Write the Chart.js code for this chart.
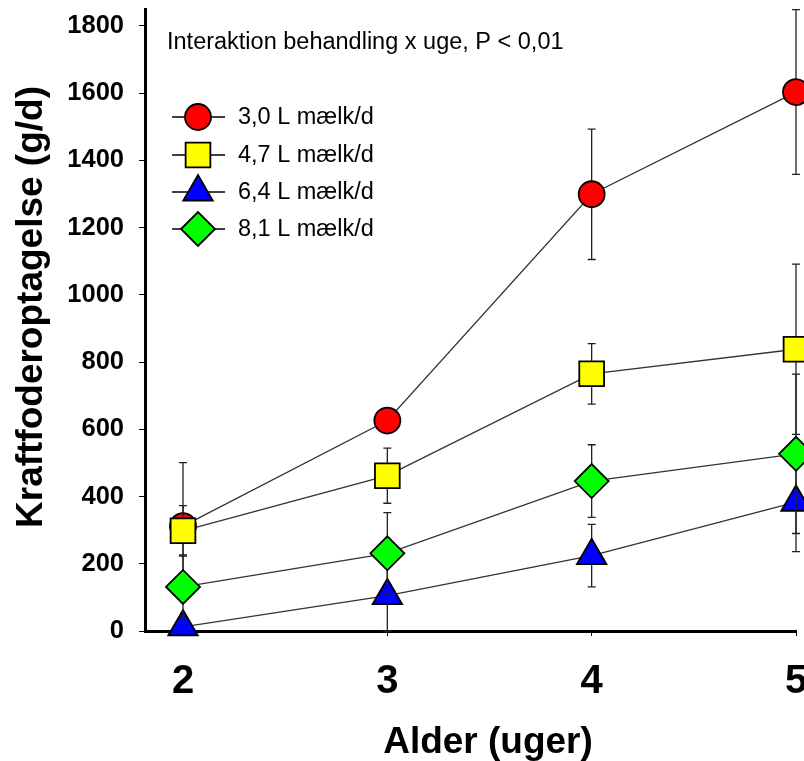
<!DOCTYPE html>
<html>
<head>
<meta charset="utf-8">
<title>Kraftfoderoptagelse</title>
<script src="https://cdn.jsdelivr.net/npm/chart.js@4/dist/chart.umd.min.js"></script>
<style>
  html, body { margin: 0; padding: 0; background: #fff; }
  #wrap { width: 804px; height: 761px; }
</style>
</head>
<body>
<div id="wrap"><canvas id="chart" width="804" height="761"></canvas></div>
<script>
// alder i uger
const weeks = [2, 3, 4, 5];
const yTicks = [0, 200, 400, 600, 800, 1000, 1200, 1400, 1600, 1800];

const labels = ['3,0 L mælk/d', '4,7 L mælk/d', '6,4 L mælk/d', '8,1 L mælk/d'];

// kraftfoderoptagelse (g/d) og fejlgrænser
const milk30 = [312, 626, 1299, 1603];
const milk30Err = [189, 25, 194, 245];
const milk47 = [298, 462, 765, 838];
const milk47Err = [75, 82, 90, 253];
const milk64 = [12, 105, 224, 383];
const milk64Err = [15, 105, 93, 147];
const milk81 = [131, 231, 446, 527];
const milk81Err = [95, 121, 108, 237];

const FONT = '"Liberation Sans", Arial, sans-serif';

const styles = [
  { color: '#ff0000', pointStyle: 'circle', radius: 13 },
  { color: '#ffff00', pointStyle: 'rect', radius: 17.5 },
  { color: '#0000ff', pointStyle: 'triangle', radius: 17 },
  { color: '#00ff00', pointStyle: 'rectRot', radius: 17 },
];

const values = [milk30, milk47, milk64, milk81];
const errors = [milk30Err, milk47Err, milk64Err, milk81Err];

const datasets = values.map((vals, i) => ({
  label: labels[i],
  data: weeks.map((w, j) => ({ x: w, y: vals[j] })),
  err: errors[i],
  borderColor: '#333',
  borderWidth: 1.3,
  pointStyle: styles[i].pointStyle,
  pointRadius: styles[i].radius,
  pointBackgroundColor: styles[i].color,
  pointBorderColor: '#000',
  pointBorderWidth: 1.8,
  order: 4 - i, // rød tegnes først, grøn sidst
  clip: false,
}));

// fejllinjer tegnes lige før hver serie
const errorBars = {
  id: 'errorBars',
  beforeDatasetDraw(chart, args) {
    const ds = chart.data.datasets[args.index];
    const { ctx } = chart;
    const x = chart.scales.x, y = chart.scales.y;
    ctx.save();
    ctx.strokeStyle = '#222';
    ctx.lineWidth = 1.3;
    ds.data.forEach((p, i) => {
      const px = x.getPixelForValue(p.x);
      const top = y.getPixelForValue(p.y + ds.err[i]);
      const bot = y.getPixelForValue(Math.max(0, p.y - ds.err[i]));
      ctx.beginPath();
      ctx.moveTo(px, top); ctx.lineTo(px, bot);
      ctx.moveTo(px - 4, top); ctx.lineTo(px + 4, top);
      ctx.moveTo(px - 4, bot); ctx.lineTo(px + 4, bot);
      ctx.stroke();
    });
    ctx.restore();
  }
};

// titler, note og forklaring
const texts = {
  id: 'texts',
  afterDraw(chart) {
    const { ctx } = chart;
    ctx.save();
    ctx.fillStyle = '#000';

    ctx.font = 'bold 37px ' + FONT;
    ctx.textAlign = 'center';
    ctx.textBaseline = 'alphabetic';
    ctx.fillText('Alder (uger)', 488, 753);

    ctx.save();
    ctx.translate(32, 307);
    ctx.rotate(-Math.PI / 2);
    ctx.textBaseline = 'middle';
    ctx.fillText('Kraftfoderoptagelse (g/d)', 0, 0);
    ctx.restore();

    ctx.font = '23.5px ' + FONT;
    ctx.textAlign = 'left';
    ctx.fillText('Interaktion behandling x uge, P < 0,01', 167, 49);

    const rowsY = [117, 155, 192, 229];
    labels.forEach((lab, i) => {
      const yy = rowsY[i];
      ctx.strokeStyle = '#000';
      ctx.lineWidth = 1.3;
      ctx.beginPath();
      ctx.moveTo(172, yy); ctx.lineTo(225, yy);
      ctx.stroke();
      ctx.fillStyle = styles[i].color;
      ctx.lineWidth = 1.8;
      Chart.helpers.drawPoint(ctx, {
        pointStyle: styles[i].pointStyle,
        radius: styles[i].radius,
        rotation: 0,
        borderWidth: 1.8
      }, 198, yy);
      ctx.fillStyle = '#000';
      ctx.textBaseline = 'middle';
      ctx.fillText(lab, 238, yy + 1);
    });
    ctx.restore();
  }
};

new Chart(document.getElementById('chart'), {
  type: 'line',
  data: { datasets },
  plugins: [errorBars, texts],
  options: {
    responsive: false,
    animation: false,
    layout: { autoPadding: false, padding: { left: 0, right: 8, top: 9, bottom: 0 } },
    plugins: { legend: { display: false }, tooltip: { enabled: false } },
    scales: {
      x: {
        type: 'linear',
        min: 1.814,
        max: 5,
        afterBuildTicks: (s) => { s.ticks = weeks.map(v => ({ value: v })); },
        afterFit: (s) => {
          s.height = 130;
          s.paddingLeft = 0;
          s.paddingRight = 0;
        },
        grid: { drawOnChartArea: false, drawTicks: true, tickLength: 5, color: '#000', lineWidth: 1 },
        border: { display: true, color: '#000', width: 3 },
        ticks: { color: '#000', padding: 22, maxRotation: 0, font: { family: FONT, size: 40, weight: 'bold' } },
      },
      y: {
        min: 0,
        max: 1850,
        afterBuildTicks: (s) => { s.ticks = yTicks.map(v => ({ value: v })); },
        afterFit: (s) => {
          s.width = 145;
          s.paddingTop = 0;
          s.paddingBottom = 0;
        },
        grid: { drawOnChartArea: false, drawTicks: true, tickLength: 6, color: '#000', lineWidth: 1 },
        border: { display: true, color: '#000', width: 3 },
        ticks: {
          color: '#000',
          padding: 15,
          callback: (v) => String(v),
          font: { family: FONT, size: 25.5, weight: 'bold' }
        },
      }
    }
  }
});
</script>
</body>
</html>
